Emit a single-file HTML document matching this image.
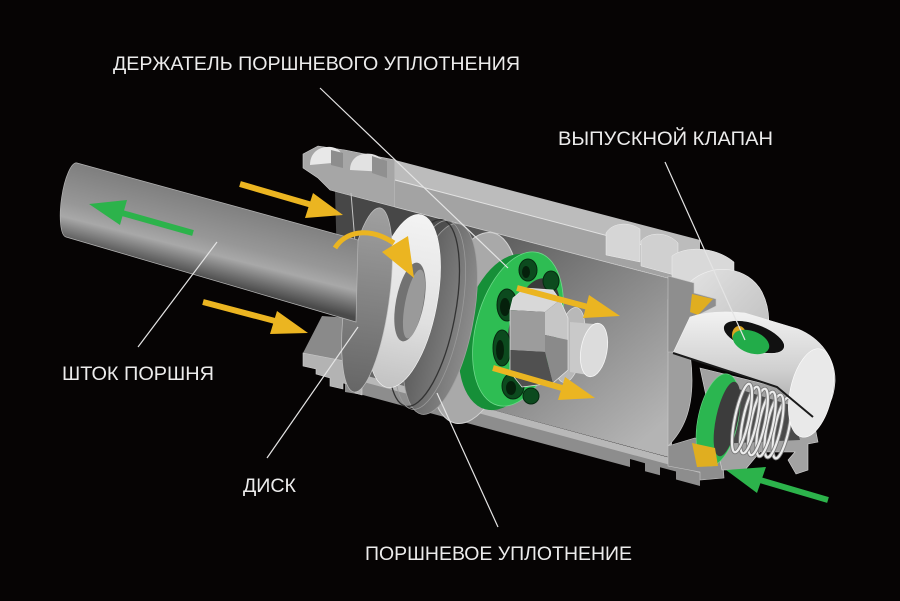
<!DOCTYPE html>
<html><head><meta charset="utf-8">
<style>
html,body{margin:0;padding:0;background:#060404;}
svg{display:block}
text{font-family:"Liberation Sans Narrow","Liberation Sans",sans-serif;fill:#ececec;font-size:19px}
</style></head><body>
<svg width="900" height="601" viewBox="0 0 900 601" xmlns="http://www.w3.org/2000/svg">
<defs>
<linearGradient id="gRod" gradientUnits="userSpaceOnUse" x1="212" y1="197" x2="192" y2="276">
 <stop offset="0" stop-color="#7e7e7e"/><stop offset="0.5" stop-color="#979797"/>
 <stop offset="0.68" stop-color="#a8a8a8"/><stop offset="0.88" stop-color="#6c6c6c"/><stop offset="1" stop-color="#4a4a4a"/>
</linearGradient>
<linearGradient id="gInt" gradientUnits="userSpaceOnUse" x1="420" y1="220" x2="620" y2="460">
 <stop offset="0" stop-color="#474747"/><stop offset="0.5" stop-color="#7f7f7f"/><stop offset="1" stop-color="#b4b4b4"/>
</linearGradient>
<linearGradient id="gWhite" x1="0" y1="0" x2="0" y2="1">
 <stop offset="0" stop-color="#f3f3f3"/><stop offset="0.6" stop-color="#e0e0e0"/><stop offset="1" stop-color="#c2c2c2"/>
</linearGradient>
<linearGradient id="gG" x1="0" y1="0" x2="0" y2="1">
 <stop offset="0" stop-color="#a0a0a0"/><stop offset="1" stop-color="#666666"/>
</linearGradient>
<linearGradient id="gDark" x1="0" y1="0" x2="1" y2="0">
 <stop offset="0" stop-color="#575757"/><stop offset="0.6" stop-color="#767676"/><stop offset="1" stop-color="#8c8c8c"/>
</linearGradient>
<linearGradient id="gNoz" x1="0" y1="0" x2="0" y2="1">
 <stop offset="0" stop-color="#f2f2f2"/><stop offset="0.55" stop-color="#d0d0d0"/><stop offset="1" stop-color="#a0a0a0"/>
</linearGradient>
<linearGradient id="gCap" x1="0" y1="0" x2="1" y2="1">
 <stop offset="0" stop-color="#e2e2e2"/><stop offset="1" stop-color="#bdbdbd"/>
</linearGradient>
</defs>

<rect width="900" height="601" fill="#060404"/>

<!-- housing interior -->
<polygon points="335,191 672,279 672,458 340,369" fill="url(#gInt)"/>
<path d="M668,300 C684,320 692,350 692,380 C692,410 684,430 668,446 Z" fill="#9e9e9e" stroke="#c8c8c8" stroke-width="0.7"/>

<!-- top wall -->
<polygon points="303,168 303,154 318,146 345,150 395,160 395,207 345,194 330,190 318,178" fill="#a6a6a6" stroke="#cfcfcf" stroke-width="0.6"/>
<polygon points="395,160 700,240 700,260 395,180" fill="#bcbcbc"/>
<polygon points="395,180 700,260 700,286 395,207" fill="#a3a3a3"/>
<line x1="395" y1="180" x2="700" y2="260" stroke="#e2e2e2" stroke-width="1"/>
<line x1="395" y1="207" x2="668" y2="278" stroke="#cfcfcf" stroke-width="0.8"/>
<!-- left flange tabs -->
<path d="M310,165 C310,152 320,146 331,147 C339,148 343,153 343,162 Z" fill="#e8e8e8"/>
<path d="M331,150 L343,153 L343,168 L331,165 Z" fill="#8d8d8d"/>
<path d="M350,170 C350,158 360,152 372,154 C381,156 386,162 387,172 Z" fill="#e2e2e2"/>
<path d="M372,156 L387,161 L387,178 L372,173 Z" fill="#909090"/>
<line x1="351" y1="193" x2="355" y2="242" stroke="#c4c4c4" stroke-width="1"/>

<!-- bottom wall -->
<polygon points="345,370 700,466 700,486 676,479.5 676,471.5 660,467.2 660,475.2 645,471.2 645,463.2 630,459 630,467 362,394.7 345,392" fill="#8d8d8d"/>
<polygon points="345,370 700,466 700,473 345,377" fill="#b8b8b8"/>
<!-- bottom-left flange -->
<polygon points="303,353 322,316 350,318 350,362" fill="#8a8a8a"/>
<polygon points="303,353 350,362 362,368 362,395 355,393 355,386 343,383 343,389 330,386 330,378 316,374 316,369 303,366" fill="#b3b3b3" stroke="#d0d0d0" stroke-width="0.6"/>

<!-- right ridges / end cap -->
<path d="M606,233 C612,223 628,221 640,229 L640,262 L606,255 Z" fill="#d6d6d6" stroke="#eeeeee" stroke-width="0.5"/>
<path d="M641,241 C650,231 668,232 678,243 L678,276 L641,266 Z" fill="#d0d0d0" stroke="#eeeeee" stroke-width="0.5"/>
<path d="M672,256 C685,246 715,246 734,262 L734,302 L672,292 Z" fill="#d9d9d9" stroke="#eeeeee" stroke-width="0.5"/>
<path d="M690,282 C712,262 748,266 762,292 C772,312 770,335 762,350 L700,350 Z" fill="url(#gCap)" stroke="#f0f0f0" stroke-width="0.6"/>
<polygon points="668,276 694,283 694,293 716,299 716,306 692,318 676,352 668,352" fill="#8e8e8e" stroke="#c4c4c4" stroke-width="0.6"/>
<polygon points="692,294 713,299 698,315 690,312" fill="#e0ae20"/>
<polygon points="668,446 695,438 722,448 724,478 700,480 700,472 668,466" fill="#8e8e8e" stroke="#c4c4c4" stroke-width="0.6"/>

<!-- lower nozzle (cut) -->
<polygon points="700,368 777,387 813,417 818,442 808,444 808,470 796,474 788,460 795,452 760,452 745,470 722,470" fill="#a2a2a2" stroke="#d6d6d6" stroke-width="0.6"/>
<polygon points="716,382 790,405 800,440 716,444" fill="#4a4a4a"/>
<ellipse cx="718" cy="420" rx="20" ry="47" transform="rotate(12 718 420)" fill="#2bb650" stroke="#6ed88a" stroke-width="0.6"/>
<ellipse cx="727" cy="419" rx="11" ry="38" transform="rotate(12 727 419)" fill="#3c3c3c"/>
<g fill="none">
 <ellipse cx="782" cy="428" rx="7" ry="31" transform="rotate(12 782 428)" stroke="#7a7a7a" stroke-width="4"/>
 <ellipse cx="782" cy="428" rx="7" ry="31" transform="rotate(12 782 428)" stroke="#ececec" stroke-width="2.2"/>
 <ellipse cx="774" cy="426" rx="7" ry="32" transform="rotate(12 774 426)" stroke="#7a7a7a" stroke-width="4"/>
 <ellipse cx="774" cy="426" rx="7" ry="32" transform="rotate(12 774 426)" stroke="#ececec" stroke-width="2.2"/>
 <ellipse cx="766" cy="424" rx="7" ry="33" transform="rotate(12 766 424)" stroke="#7a7a7a" stroke-width="4"/>
 <ellipse cx="766" cy="424" rx="7" ry="33" transform="rotate(12 766 424)" stroke="#ececec" stroke-width="2.2"/>
 <ellipse cx="758" cy="422" rx="7" ry="34" transform="rotate(12 758 422)" stroke="#7a7a7a" stroke-width="4"/>
 <ellipse cx="758" cy="422" rx="7" ry="34" transform="rotate(12 758 422)" stroke="#ececec" stroke-width="2.2"/>
 <ellipse cx="750" cy="420" rx="7" ry="34" transform="rotate(12 750 420)" stroke="#7a7a7a" stroke-width="4"/>
 <ellipse cx="750" cy="420" rx="7" ry="34" transform="rotate(12 750 420)" stroke="#ececec" stroke-width="2.2"/>
 <ellipse cx="742" cy="418" rx="7" ry="35" transform="rotate(12 742 418)" stroke="#7a7a7a" stroke-width="4"/>
 <ellipse cx="742" cy="418" rx="7" ry="35" transform="rotate(12 742 418)" stroke="#ececec" stroke-width="2.2"/>
</g>
<polygon points="692,443 715,448 718,466 697,467" fill="#e0ae20"/>

<!-- upper nozzle -->
<path d="M673,353 L690,317 C705,312 725,311 745,313 L798,329 C820,338 836,358 835,382 C834,398 828,410 820,416 L813,417 L777,387 Z" fill="url(#gNoz)" stroke="#f2f2f2" stroke-width="0.6"/>
<ellipse cx="811" cy="393" rx="21" ry="45" transform="rotate(12 811 393)" fill="#e9e9e9" stroke="#ffffff" stroke-width="0.6"/>
<path d="M673,353 L777,387 L813,417" fill="none" stroke="#1a1a1a" stroke-width="2"/>
<ellipse cx="754" cy="337" rx="32" ry="13" transform="rotate(20 754 337)" fill="#111111" stroke="#eeeeee" stroke-width="0.6"/>
<ellipse cx="739" cy="335" rx="7" ry="9" fill="#d9a521"/>
<ellipse cx="751" cy="342" rx="19" ry="11" transform="rotate(20 751 342)" fill="#22ac49"/>

<!-- piston assembly (back to front) -->
<ellipse cx="474" cy="328" rx="42" ry="97" transform="rotate(11 474 328)" fill="#a9a9a9" stroke="#d2d2d2" stroke-width="1"/>
<ellipse cx="506" cy="332" rx="44" ry="80" transform="rotate(15 506 332)" fill="#168f38"/>
<ellipse cx="518" cy="329" rx="42" ry="79" transform="rotate(15 518 329)" fill="#2ebd53" stroke="#6ed88a" stroke-width="0.8"/>
<ellipse cx="534" cy="325" rx="24" ry="48" transform="rotate(15 534 325)" fill="#3a3a3a"/>
<g fill="#0c4a1e" stroke="#062a10" stroke-width="1">
 <ellipse cx="528" cy="270" rx="9" ry="11"/>
 <ellipse cx="551" cy="281" rx="8" ry="10"/>
 <ellipse cx="507" cy="305" rx="10" ry="16"/>
 <ellipse cx="502" cy="348" rx="9" ry="18"/>
 <ellipse cx="513" cy="386" rx="11" ry="13"/>
 <ellipse cx="531" cy="396" rx="8" ry="8"/>
</g>
<g fill="#05200b">
 <ellipse cx="526" cy="272" rx="4" ry="6"/>
 <ellipse cx="505" cy="307" rx="5" ry="9"/>
 <ellipse cx="500" cy="350" rx="4" ry="10"/>
 <ellipse cx="511" cy="388" rx="5" ry="7"/>
</g>
<!-- bolt, washer & nut -->
<ellipse cx="570" cy="345" rx="14" ry="38" transform="rotate(10 570 345)" fill="#b8b8b8" stroke="#dedede" stroke-width="0.7"/>
<polygon points="570,322 594,324 594,376 570,372" fill="#c9c9c9"/>
<ellipse cx="594" cy="350" rx="13" ry="27" transform="rotate(10 594 350)" fill="#dcdcdc" stroke="#f6f6f6" stroke-width="0.8"/>
<polygon points="513,298 525,288 553,290 560,300 545,312 510,310" fill="#d8d8d8"/>
<polygon points="510,310 545,312 545,352 510,350" fill="#9c9c9c"/>
<polygon points="510,350 545,352 553,383 522,387 510,372" fill="#505050"/>
<polygon points="545,312 560,300 568,318 568,340 545,335" fill="#c6c6c6"/>
<polygon points="545,335 568,340 568,370 553,383 545,352" fill="#8a8a8a"/>
<polygon points="513,298 525,288 553,290 560,300 568,318 568,370 553,383 522,387 510,372 510,310" fill="none" stroke="#e6e6e6" stroke-width="0.7"/>

<!-- piston seal -->
<ellipse cx="440" cy="319" rx="33" ry="97" transform="rotate(11 440 319)" fill="url(#gDark)" stroke="#a0a0a0" stroke-width="0.8"/>
<ellipse cx="424" cy="313" rx="31" ry="95" transform="rotate(11 424 313)" fill="none" stroke="#333333" stroke-width="1.3"/>
<ellipse cx="430" cy="315" rx="31" ry="96" transform="rotate(11 430 315)" fill="none" stroke="#9a9a9a" stroke-width="0.8"/>
<!-- disk -->
<ellipse cx="404" cy="301" rx="33" ry="88" transform="rotate(11 404 301)" fill="url(#gWhite)" stroke="#f8f8f8" stroke-width="0.6"/>
<ellipse cx="410" cy="302" rx="14" ry="40" transform="rotate(11 410 302)" fill="#727272"/>
<ellipse cx="414" cy="304" rx="9" ry="35" transform="rotate(11 414 304)" fill="#9a9a9a"/>
<ellipse cx="367" cy="300" rx="22" ry="93" transform="rotate(8 367 300)" fill="url(#gG)" stroke="#c0c0c0" stroke-width="0.7"/>

<!-- rod -->
<path d="M77,163 L358,240 L356,322 L66,237 A10 37 8 0 1 77,163 Z" fill="url(#gRod)" stroke="#b4b4b4" stroke-width="0.7"/>

<!-- yellow arrows -->
<g stroke="#ebb521" stroke-width="6" fill="none">
 <line x1="240" y1="184" x2="312" y2="205"/>
 <line x1="203" y1="302" x2="275" y2="321"/>
 <path d="M335,248 C345,232 368,226 394,243" stroke-width="5"/>
 <line x1="517" y1="288" x2="588" y2="307"/>
 <line x1="493" y1="368" x2="562" y2="388"/>
</g>
<g fill="#ebb521">
 <polygon points="313,193 343,215 305,218"/>
 <polygon points="277,311 308,333 270,334"/>
 <polygon points="382,252 408,236 414,278"/>
 <polygon points="589,295 620,316 583,318"/>
 <polygon points="565,377 595,398 558,400"/>
</g>

<!-- green arrows -->
<g stroke="#2cb34b" stroke-width="6">
 <line x1="193" y1="233" x2="122" y2="213"/>
 <line x1="828" y1="500" x2="760" y2="480"/>
</g>
<g fill="#2cb34b">
 <polygon points="89,204 127,200 120,225"/>
 <polygon points="726,470 766,467 757,493"/>
</g>

<!-- leader lines -->
<g stroke="#e4e4e4" stroke-width="1.2">
 <line x1="320" y1="88" x2="508" y2="268"/>
 <line x1="665" y1="162" x2="745" y2="340"/>
 <line x1="138" y1="347" x2="217" y2="242"/>
 <line x1="267" y1="458" x2="358" y2="327"/>
 <line x1="498" y1="527" x2="437" y2="393"/>
</g>

<!-- labels -->
<text x="113" y="70" textLength="407" lengthAdjust="spacingAndGlyphs">ДЕРЖАТЕЛЬ ПОРШНЕВОГО УПЛОТНЕНИЯ</text>
<text x="558" y="145" textLength="215" lengthAdjust="spacingAndGlyphs">ВЫПУСКНОЙ КЛАПАН</text>
<text x="62" y="380" textLength="152" lengthAdjust="spacingAndGlyphs">ШТОК ПОРШНЯ</text>
<text x="243" y="492" textLength="53" lengthAdjust="spacingAndGlyphs">ДИСК</text>
<text x="365" y="560" textLength="267" lengthAdjust="spacingAndGlyphs">ПОРШНЕВОЕ УПЛОТНЕНИЕ</text>
</svg>
</body></html>
